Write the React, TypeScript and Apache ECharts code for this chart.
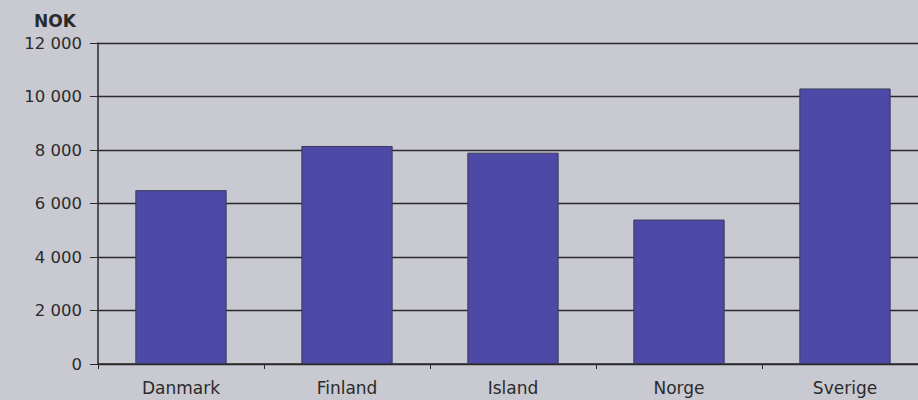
import React, { useEffect, useRef } from "react";
import * as echarts from "echarts";

const categories = ["Danmark", "Finland", "Island", "Norge", "Sverige"];
const values = [6500, 8150, 7900, 5400, 10300];
const yTicks = [0, 2000, 4000, 6000, 8000, 10000, 12000];
const unitLabel = "NOK";

const fmt = (v: number) => {
  const s = String(Math.round(v));
  return s.replace(/\B(?=(\d{3})+(?!\d))/g, " ");
};

export default function App() {
  const ref = useRef<HTMLDivElement>(null);
  useEffect(() => {
    if (!ref.current) return;
    const chart = echarts.init(ref.current, null, { renderer: "svg" });
    const font = "DejaVu Sans, Liberation Sans, Arial, sans-serif";
    chart.setOption({
      animation: false,
      backgroundColor: "#c8c9d1",
      textStyle: { fontFamily: font },
      graphic: [
        {
          type: "text",
          left: 34,
          top: 12,
          style: { text: unitLabel, font: `bold 17px ${font}`, fill: "#2b2b2b" },
        },
      ],
      grid: {
        left: 98,
        top: 43,
        width: 830,
        height: 321,
        containLabel: false,
        outerBoundsMode: "none",
      },
      xAxis: {
        type: "category",
        data: categories,
        boundaryGap: true,
        axisLine: { show: true, lineStyle: { color: "#2a2a2a", width: 1.5 } },
        axisTick: { show: true, length: 5, inside: false, lineStyle: { color: "#2a2a2a" } },
        axisLabel: { color: "#2b2b2b", fontSize: 17, margin: 15, fontFamily: font },
      },
      yAxis: {
        type: "value",
        min: yTicks[0],
        max: yTicks[yTicks.length - 1],
        interval: 2000,
        axisLine: { show: true, lineStyle: { color: "#2a2a2a", width: 1.5 } },
        axisTick: { show: true, length: 8, inside: false, lineStyle: { color: "#2a2a2a" } },
        axisLabel: { color: "#2b2b2b", fontSize: 16.5, margin: 16, fontFamily: font, formatter: (v: number) => fmt(v) },
        splitLine: { show: true, lineStyle: { color: "#2a2a2a", width: 1.3 } },
      },
      series: [
        {
          type: "bar",
          data: values,
          barWidth: "55%",
          itemStyle: { color: "#4c4aa6", borderColor: "#3a3a5a", borderWidth: 1 },
        },
      ],
    });
    return () => chart.dispose();
  }, []);
  return (
    <div
      ref={ref}
      style={{ position: "absolute", left: 0, top: 0, width: 918, height: 400 }}
    />
  );
}
